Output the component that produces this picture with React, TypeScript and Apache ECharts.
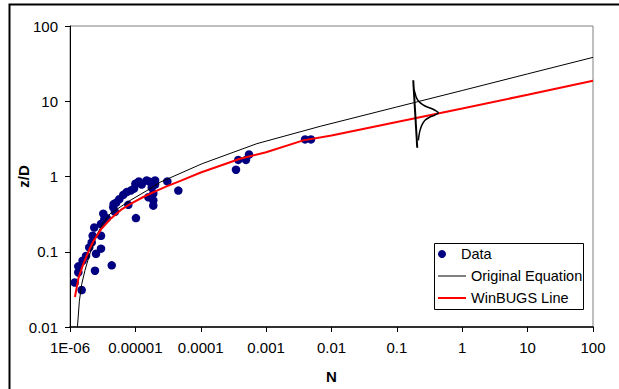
import React, { useEffect, useRef } from "react";
import * as echarts from "echarts";

const xTickLabels = ["1E-06", "0.00001", "0.0001", "0.001", "0.01", "0.1", "1", "10", "100"];
const yTickLabels = ["0.01", "0.1", "1", "10", "100"];

// Observed data (N, z/D)
const dataN = [
  1.18e-6, 1.51e-6, 1.34e-6, 1.34e-6, 1.56e-6, 1.76e-6, 1.97e-6, 2.15e-6, 2.22e-6, 2.35e-6,
  2.41e-6, 2.5e-6, 2.98e-6, 2.98e-6, 2.98e-6, 3.35e-6, 3.23e-6, 3.64e-6, 4.35e-6, 4.59e-6,
  4.65e-6, 4.87e-6, 5.1e-6, 5.68e-6, 6.53e-6, 7.8e-6, 7.36e-6, 8.47e-6, 9.53e-6, 1.0e-5,
  1.02e-5, 1.13e-5, 1.25e-5, 1.49e-5, 1.58e-5, 1.67e-5, 1.78e-5, 1.88e-5, 1.88e-5, 1.88e-5,
  2.0e-5, 2.0e-5, 3.08e-5, 4.54e-5, 3.46e-4, 3.75e-4, 4.92e-4, 5.47e-4, 3.94e-3, 4.86e-3,
];
const dataZD = [
  0.039, 0.031, 0.064, 0.053, 0.076, 0.088, 0.114, 0.133, 0.163, 0.21,
  0.056, 0.094, 0.163, 0.11, 0.234, 0.27, 0.32, 0.28, 0.066, 0.39,
  0.43, 0.34, 0.45, 0.5, 0.57, 0.42, 0.62, 0.65, 0.69, 0.8,
  0.28, 0.86, 0.78, 0.885, 0.53, 0.85, 0.71, 0.59, 0.48, 0.41,
  0.885, 0.78, 0.86, 0.65, 1.23, 1.66, 1.66, 1.96, 3.11, 3.11,
];

// Original Equation line
const eqN = [1.3e-6, 1.39e-6, 1.51e-6, 1.69e-6, 1.97e-6, 2.5e-6, 3.2e-6, 4.1e-6, 8.3e-6, 1.5e-5, 2.4e-5, 1.05e-4, 7.2e-4, 6.7e-3, 0.1, 1, 10, 100];
const eqZD = [0.01, 0.022, 0.037, 0.056, 0.089, 0.16, 0.24, 0.32, 0.48, 0.65, 0.84, 1.48, 2.73, 4.64, 8.4, 13.9, 23.1, 38.3];

// WinBUGS line
const bugsN = [1.19e-6, 1.35e-6, 1.6e-6, 2.0e-6, 2.3e-6, 3e-6, 4.1e-6, 6e-6, 8.3e-6, 1.3e-5, 1.9e-5, 3e-5, 5e-5, 1e-4, 4e-4, 1e-3, 3.7e-3, 1e-2, 0.1, 1, 10, 100];
const bugsZD = [0.025, 0.045, 0.069, 0.11, 0.14, 0.2, 0.27, 0.36, 0.43, 0.53, 0.62, 0.74, 0.88, 1.13, 1.72, 2.1, 3.02, 3.5, 5.3, 8.0, 12.2, 18.7];

// Distribution sketch: baseline and bell outline
const baseN = [0.178, 0.205];
const baseZD = [19.05, 2.41];
const bellN = [0.1825, 0.1875, 0.201, 0.226, 0.269, 0.321, 0.383, 0.43, 0.383, 0.321, 0.269, 0.24, 0.226, 0.218, 0.213];
const bellZD = [14.5, 13.3, 10.9, 9.6, 8.65, 8.15, 7.59, 7.06, 6.56, 6.18, 5.58, 4.79, 4.1, 3.52, 3.02];

const zip = (a: number[], b: number[]) => a.map((v, i) => [v, b[i]]);
const FONT = "'Liberation Sans', Arial, sans-serif";
const legendText = { fontSize: 14.5, color: "#000", fontFamily: FONT, lineHeight: 16 };

export default function App() {
  const ref = useRef<HTMLDivElement>(null);
  useEffect(() => {
    if (!ref.current) return;
    const chart = echarts.init(ref.current, undefined, { renderer: "svg" });
    chart.setOption({
      animation: false,
      backgroundColor: "#ffffff",
      textStyle: { fontFamily: FONT },
      grid: {
        left: 70, right: 26, top: 26, bottom: 62,
        show: true, borderColor: "#808080", borderWidth: 1, backgroundColor: "#ffffff",
      },
      xAxis: {
        type: "log", logBase: 10, min: 1e-6, max: 100, splitNumber: 8,
        name: "N", nameLocation: "middle", nameGap: 42, nameMoveOverlap: false,
        nameTextStyle: { fontWeight: "bold", fontSize: 15, color: "#000", fontFamily: FONT },
        axisLine: { lineStyle: { color: "#000", width: 1.5 } },
        axisTick: { show: true, inside: false, length: 5, lineStyle: { color: "#000" } },
        axisLabel: {
          color: "#000", fontSize: 15, margin: 13, fontFamily: FONT,
          formatter: (v: number) => xTickLabels[Math.round(Math.log10(v)) + 6] ?? "",
        },
        splitLine: { show: false },
        minorTick: { show: false },
      },
      yAxis: {
        type: "log", logBase: 10, min: 0.01, max: 100, splitNumber: 4,
        name: "z/D", nameLocation: "middle", nameGap: 39, nameRotate: 90, nameMoveOverlap: false,
        nameTextStyle: { fontWeight: "bold", fontSize: 15, color: "#000", fontFamily: FONT },
        axisLine: { lineStyle: { color: "#000", width: 1 } },
        axisTick: { show: true, inside: false, length: 5, lineStyle: { color: "#000" } },
        axisLabel: {
          color: "#000", fontSize: 15, margin: 12, fontFamily: FONT,
          formatter: (v: number) => yTickLabels[Math.round(Math.log10(v)) + 2] ?? "",
        },
        splitLine: { show: false },
      },
      legend: [
        {
          data: ["Data"], orient: "vertical", left: 438, top: 246, padding: 0,
          itemWidth: 28, itemHeight: 8, icon: "circle",
          textStyle: legendText, selectedMode: false,
        },
        {
          data: ["Original Equation"], orient: "vertical", left: 438, top: 268, padding: 0,
          itemWidth: 28, itemHeight: 1, icon: "rect",
          textStyle: legendText, selectedMode: false,
        },
        {
          data: ["WinBUGS Line"], orient: "vertical", left: 438, top: 290, padding: 0,
          itemWidth: 28, itemHeight: 2, icon: "rect",
          textStyle: legendText, selectedMode: false,
        },
      ],
      graphic: [
        {
          type: "rect", z: 3,
          shape: { x: 434.5, y: 243.5, width: 149, height: 66 },
          style: { fill: "#ffffff", stroke: "#000", lineWidth: 1 },
        },
        {
          type: "rect", z: 10,
          shape: { x: 9.5, y: 4.5, width: 700, height: 500 },
          style: { fill: "none", stroke: "#000", lineWidth: 2 },
        },
      ],
      series: [
        {
          name: "Data", type: "scatter", data: zip(dataN, dataZD),
          symbol: "circle", symbolSize: 8.5,
          itemStyle: { color: "#000080", opacity: 1 }, z: 2,
        },
        {
          name: "Original Equation", type: "line", data: zip(eqN, eqZD),
          symbol: "none", lineStyle: { color: "#000", width: 1 },
          itemStyle: { color: "#000" }, z: 3,
        },
        {
          name: "WinBUGS Line", type: "line", data: zip(bugsN, bugsZD),
          symbol: "none", lineStyle: { color: "#ff0000", width: 2 },
          itemStyle: { color: "#ff0000" }, z: 4,
        },
        {
          name: "baseline", type: "line", data: zip(baseN, baseZD),
          symbol: "none", lineStyle: { color: "#000", width: 2 }, z: 5,
        },
        {
          name: "bell", type: "line", data: zip(bellN, bellZD), smooth: 0.3,
          symbol: "none", lineStyle: { color: "#000", width: 1.5 }, z: 5,
        },
      ],
    });
    return () => chart.dispose();
  }, []);
  return (
    <div
      ref={ref}
      style={{ position: "fixed", left: 0, top: 0, width: 619, height: 389, background: "#fff" }}
    />
  );
}
